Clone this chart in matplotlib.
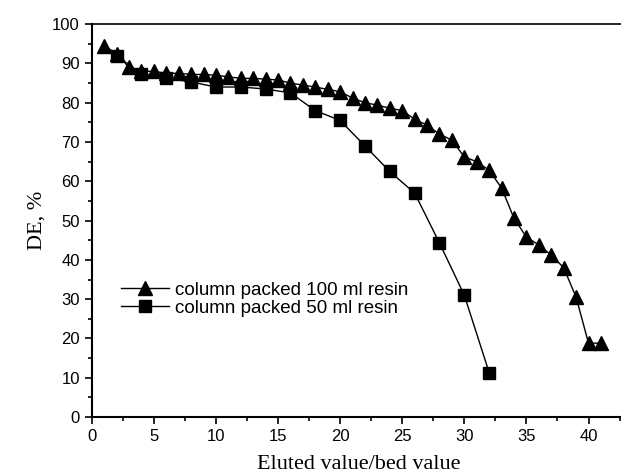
import numpy as np
import matplotlib
matplotlib.use("Agg")
import matplotlib.pyplot as plt
from matplotlib.ticker import MultipleLocator

# column packed 100 ml resin (triangles)
x_100 = [1, 2, 3, 4, 5, 6, 7, 8, 9, 10, 11, 12, 13, 14, 15, 16, 17, 18, 19, 20,
         21, 22, 23, 24, 25, 26, 27, 28, 29, 30, 31, 32, 33, 34, 35, 36, 37, 38, 39, 40, 41]
de_100 = [94.5, 92.5, 89, 88, 88, 87.5, 87.5, 87.2, 87.2, 87, 86.6, 86.2, 86.2, 86, 85.8, 85, 84.5, 84, 83.4, 82.8,
          81.2, 80, 79.4, 78.6, 78, 75.8, 74.3, 72, 70.5, 66.2, 65, 62.8, 58.3, 50.6, 45.8, 43.8, 41.2, 38, 30.5, 18.8, 18.8]

# column packed 50 ml resin (squares)
x_50 = [2, 4, 6, 8, 10, 12, 14, 16, 18, 20, 22, 24, 26, 28, 30, 32]
de_50 = [92, 87.4, 86.3, 85.3, 84, 84, 83.5, 82.5, 78, 75.5, 69, 62.5, 57, 44.3, 31, 11.3]

label_100 = "column packed 100 ml resin"
label_50 = "column packed 50 ml resin"

fig = plt.figure(figsize=(6.21, 4.75), dpi=100)
ax = fig.add_axes([0.1477, 0.1221, 0.860, 0.827])

ax.plot(x_100, de_100, color="black", lw=1, marker="^", ms=10, label=label_100)
ax.plot(x_50, de_50, color="black", lw=1, marker="s", ms=8, label=label_50)

ax.set_xlim(0, 43)
ax.set_ylim(0, 100)
ax.xaxis.set_major_locator(MultipleLocator(5))
ax.xaxis.set_minor_locator(MultipleLocator(2.5))
ax.yaxis.set_major_locator(MultipleLocator(10))
ax.yaxis.set_minor_locator(MultipleLocator(5))
ax.tick_params(which="major", direction="out", length=5, width=1.2, labelsize=12)
ax.tick_params(which="minor", direction="out", length=3, width=1.2)
ax.tick_params(top=False, right=False)
for lab in ax.get_xticklabels() + ax.get_yticklabels():
    lab.set_family("Liberation Sans")

ax.spines["right"].set_visible(False)
for s in ["left", "bottom"]:
    ax.spines[s].set_linewidth(1.5)
ax.spines["top"].set_linewidth(1.2)

ax.set_xlabel("Eluted value/bed value", family="Liberation Serif", fontsize=16, labelpad=8)
ax.set_ylabel("DE, %", family="Liberation Serif", fontsize=16, labelpad=4)

ax.legend(loc="center left", bbox_to_anchor=(0.054, 0.30), frameon=False,
          prop={"family": "Liberation Sans", "size": 13.5}, handlelength=2.6,
          handletextpad=0.3, borderpad=0, borderaxespad=0, labelspacing=0.05)

fig.savefig("out.png", dpi=100)
